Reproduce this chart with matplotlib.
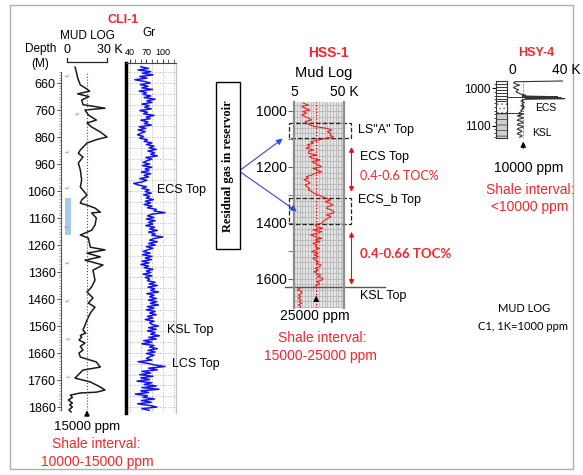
import numpy as np
import matplotlib
matplotlib.use("Agg")
import matplotlib.pyplot as plt
from matplotlib.patches import Rectangle, FancyArrowPatch
from matplotlib.ticker import MultipleLocator
from matplotlib.transforms import blended_transform_factory

plt.rcParams['font.family'] = ['Liberation Sans', 'DejaVu Sans']
plt.rcParams['hatch.linewidth'] = 0.5

RED = '#f0282d'

# ---- CLI-1: mud log (C1, K ppm) vs depth (m) ----
CLI_DEPTH = [601, 618, 641, 667, 679, 690, 700, 710, 723, 740, 753, 760, 778, 797, 808,
             823, 841, 860, 868, 882, 908, 920, 934, 956, 982, 1019, 1045, 1075, 1093,
             1105, 1112, 1123, 1138, 1141, 1160, 1186, 1205, 1223, 1234, 1268, 1278,
             1290, 1304, 1316, 1334, 1353, 1390, 1415, 1434, 1456, 1475, 1490, 1512,
             1538, 1575, 1586, 1595, 1601, 1612, 1623, 1635, 1649, 1660, 1675, 1693,
             1712, 1723, 1753, 1767, 1786, 1797, 1805, 1808, 1816, 1825, 1834, 1845,
             1852, 1860, 1870, 1878]
CLI_GAS = [6, 7, 8, 10, 14, 17, 8, 16.5, 11, 12, 28.5, 13.5, 16, 22, 15,
           18.5, 25, 30, 23, 15, 10, 8.5, 12, 8.5, 10, 11, 10, 15, 11,
           10, 15, 21, 25, 18.5, 22, 21, 18.5, 10, 16, 17.5, 28.5,
           15, 25, 13.5, 27, 19.5, 21, 18.5, 15, 19.5, 16, 21, 17.5,
           15, 12, 14, 10, 11, 9, 13.5, 10, 12, 9, 10, 22,
           25, 12, 6, 17.5, 25, 28.5, 22, 10, 2.5, 4, 1, 4,
           2, 4, 1.5, 3]
CLI_SHALE_BAND = (1086, 1223)
CLI_CUTOFF = 15          # K ppm
CLI_TOPS = ['ECS Top', 'KSL Top', 'LCS Top']
CLI_TOP_DEPTH = [1056, 1575, 1700]
CLI_DEPTH_TICKS = [660, 760, 860, 960, 1060, 1160, 1260, 1360, 1460, 1560, 1660, 1760, 1860]

# ---- CLI-1: gamma ray (API), sampled every 6 m from 600 m ----
GR_TOP, GR_STEP = 600, 6
GR = [60, 74, 55, 78, 63, 82, 58, 71, 49, 66, 77, 59, 73, 62, 81, 57, 70,
      64, 78, 66, 86, 71, 80, 62, 75, 67, 79, 58, 72, 65, 84, 70, 77, 60, 73, 66, 79, 57, 69, 55, 68, 60,
      54, 65, 58, 72, 66, 80, 70, 84, 75, 88, 73, 85, 78, 90, 69, 80, 71,
      64, 76, 63, 80, 68, 75, 61, 78, 66, 74, 58, 71, 63, 47, 56, 70, 62, 75,
      68, 79, 65, 76, 70, 83, 68, 78, 66, 80, 72, 88, 84, 104, 80,
      72, 84, 70, 86, 74, 82, 69, 85, 76, 90, 74, 86, 80, 100, 84,
      76, 90, 74, 86, 70, 82, 72,
      64, 77, 63, 80, 68, 79, 62, 75, 60, 74, 66, 82, 70, 78, 64, 80, 68, 76,
      72, 86, 75, 90, 73, 85, 78, 92, 71, 84, 76, 88, 74, 89, 77, 92, 72, 84, 70, 86, 76, 88, 72, 82, 68, 84, 76,
      80, 92, 74, 88, 72, 86, 78, 94, 74, 88, 65, 80, 62, 84, 76, 90, 73, 86, 70, 84, 76,
      70, 80, 55, 72, 85, 104, 74, 90,
      62, 78, 58, 82, 60, 76, 53, 80, 66, 88, 62, 93, 60, 74, 50, 72, 64, 85, 61, 79, 54, 76, 89, 62, 75]

# ---- HSS-1: mud log ----
HSS_DEPTH = [972, 979, 984, 990, 996, 1002, 1008, 1014, 1020, 1026, 1032, 1038, 1044, 1050,
             1056, 1062, 1068, 1074, 1080, 1086, 1092, 1098, 1104, 1110, 1115, 1121, 1127,
             1133, 1139, 1145, 1151, 1157, 1163, 1169, 1175, 1181, 1187, 1193, 1199, 1205,
             1211, 1217, 1223, 1229, 1235, 1240, 1246, 1252, 1258, 1264, 1270, 1276, 1282,
             1288, 1294, 1300, 1306, 1312, 1318, 1324, 1330, 1336, 1342, 1348, 1354, 1360,
             1365, 1371, 1377, 1383, 1389, 1395, 1401, 1407, 1413, 1419, 1425, 1431, 1437,
             1443, 1449, 1455, 1461, 1467, 1473, 1479, 1485, 1491, 1497, 1503, 1508, 1514,
             1520, 1526, 1532, 1538, 1544, 1550, 1556, 1562, 1568, 1574, 1580, 1586, 1592,
             1598, 1604, 1610, 1616, 1621, 1627, 1633, 1639, 1645, 1651, 1657, 1663, 1669,
             1675, 1681, 1687, 1693, 1699, 1705]
HSS_GAS = [13.4, 17.9, 12, 14.9, 19.4, 13, 16.4, 12, 14.9, 18, 21, 15, 16.4, 19,
           23.9, 34.4, 38.9, 35, 38, 37.4, 40.4, 32.9, 26.9, 20, 22.4, 17, 19.4,
           16, 22.4, 18, 17.9, 25.4, 19, 20.9, 28.4, 21, 23.9, 27, 29.9, 22,
           25.4, 29.9, 24, 20.9, 16, 17.9, 14, 18, 19.4, 15, 16.4, 19, 17.9,
           20.9, 23, 26.9, 30, 34.4, 38, 33, 37.4, 40, 35, 34.4, 39, 41,
           40.4, 34, 38, 35.9, 33, 31, 29.9, 24, 25.4, 31, 22, 29.9, 26,
           20, 23.9, 30, 24, 28.4, 22, 26, 23.9, 28, 24, 21, 26.9, 23,
           27, 22, 23.9, 27, 25, 29, 28.4, 24, 27, 23, 25.4, 29, 26,
           31, 29.9, 25, 28, 26.9, 24, 10.4, 8, 12, 11.9, 9, 11, 8.9,
           11, 9.5, 11.9, 9, 11, 10.4]
HSS_CUTOFF = 25
HSS_KSL = 1629
HSS_GAS_ZONES = [(1043, 1097), (1310, 1405)]
HSS_TOC_SPANS = [(1129, 1289), (1432, 1621)]

# ---- HSY-4: mud log and lithology ----
HSY_DEPTH = [981, 983, 986, 989, 992, 995, 998, 1001, 1004, 1007, 1010, 1013, 1016, 1019,
             1021, 1023, 1024, 1026, 1027, 1028, 1030, 1032, 1035, 1038, 1041, 1044, 1047,
             1050, 1053, 1056, 1059, 1062, 1065, 1068, 1071, 1074, 1077, 1080, 1083, 1086,
             1089, 1092, 1095, 1098, 1101, 1104, 1107, 1110, 1113, 1116, 1119, 1122, 1125,
             1128, 1131]
HSY_GAS = [42, 3, 2, 4, 7, 4, 2, 3, 6, 5, 4, 6, 8, 12,
           9, 38, 10, 41, 12, 44, 9, 10, 8, 11, 9, 10, 8,
           11, 9, 10, 8, 9, 7, 6, 9, 5, 8, 10, 6, 5,
           9, 10, 6, 5, 9, 10, 6, 5, 8, 9, 6, 5, 8,
           9, 7]
HSY_CUTOFF = 10
HSY_MARKERS = [1023, 1065]
LITH_TOP = [981, 1034, 1066]
LITH_BASE = [1034, 1066, 1133]
LITH_KIND = ['layered', 'sand', 'shale']
LITH_BEDS = [989, 997, 1005, 1013, 1021, 1029]

W, H = 583, 475
fig = plt.figure(figsize=(W / 100, H / 100), dpi=100)


def px_box(x0, y0, x1, y1):
    return [x0 / W, 1 - y1 / H, (x1 - x0) / W, (y1 - y0) / H]


def ftext(x, y, s, **kw):
    kw.setdefault('ha', 'center')
    kw.setdefault('va', 'center')
    return fig.text(x / W, 1 - y / H, s, **kw)


# outer frame
fig.patches.append(Rectangle((10 / W, 1 - 469 / H), 563 / W, 464 / H, transform=fig.transFigure,
                             fill=False, ec='#b0b0b0', lw=1))

# ================= CLI-1 =================
ax_m = fig.add_axes(px_box(61, 72, 120, 410))
ax_m.patch.set_alpha(0)
ax_m.plot(CLI_GAS, CLI_DEPTH, color='#1a1a1a', lw=1.1, clip_on=False)
ax_m.axvline(CLI_CUTOFF, color='red', ls=':', lw=0.8)
ax_m.set_xlim(-4.5, 39.75)
ax_m.set_ylim(1871, 619)
bt = blended_transform_factory(ax_m.transAxes, ax_m.transData)
ax_m.add_patch(Rectangle((0.068, CLI_SHALE_BAND[0]), 0.1, CLI_SHALE_BAND[1] - CLI_SHALE_BAND[0],
                         transform=bt, fc='#a8c8ea', ec='none'))
for s in ['top', 'right', 'bottom']:
    ax_m.spines[s].set_visible(False)
ax_m.spines['left'].set_color('#555555')
ax_m.set_xticks([])
ax_m.set_yticks(CLI_DEPTH_TICKS)
ax_m.yaxis.set_minor_locator(MultipleLocator(10))
ax_m.tick_params(axis='y', which='major', length=3, labelsize=9, pad=1, color='#555555')
ax_m.tick_params(axis='y', which='minor', length=1.5, width=0.5, color='#777777')

# mud-log scale bar
xt = ax_m.get_xaxis_transform()
ax_m.plot([0, 0, 30, 30], [1.041, 1.03, 1.03, 1.041], transform=xt, color='#222222',
          lw=0.9, clip_on=False)
ftext(123, 20, 'CLI-1', color=RED, fontsize=9, fontweight='bold')
ftext(87, 36, 'MUD LOG', fontsize=8.5)
ftext(41, 49, 'Depth', fontsize=8.5)
ftext(40, 64, '(M)', fontsize=8.5)
ftext(67, 50, '0', fontsize=9)
ftext(110, 50, '30 K', fontsize=9)

# paragraph marks left in the source document
for px, py in [(67, 77), (77, 115), (67, 153), (67, 189), (66, 228),
               (67, 264), (67, 302), (68, 340), (68, 378)]:
    ftext(px, py, '\u21b5', fontsize=4.5, color='#9a9a9a', family='DejaVu Sans')

ax_m.annotate('', xy=(CLI_CUTOFF, 1862), xytext=(CLI_CUTOFF, 1905),
              arrowprops=dict(arrowstyle='-|>', color='black', lw=0.8, mutation_scale=8),
              annotation_clip=False)
ftext(87, 427, '15000 ppm', fontsize=9.5)
ftext(96, 444, 'Shale interval:', fontsize=10, color=RED)
ftext(97, 462, '10000-15000 ppm', fontsize=10, color=RED)

# gamma ray track
gr_depth = GR_TOP + GR_STEP * np.arange(len(GR))
ax_g = fig.add_axes(px_box(126, 63, 176, 413))
ax_g.set_xlim(33, 124)
ax_g.set_ylim(1882, 586)
for v in [40, 60, 80, 100, 120]:
    ax_g.axvline(v, color='#b5b5b5', ls=':', lw=0.7, zorder=0)
ax_g.set_yticks(np.arange(620, 1880, 40))
ax_g.grid(axis='y', color='#b5b5b5', ls=':', lw=0.7)
ax_g.tick_params(axis='y', length=0, labelleft=False)
ax_g.plot(GR, gr_depth, color='#1414f0', lw=1.1)
ax_g.xaxis.tick_top()
ax_g.set_xticks([40, 70, 100])
ax_g.set_xticks([50, 60, 80, 90, 110, 120], minor=True)
ax_g.tick_params(axis='x', which='both', direction='out', length=3, labelsize=6.5, pad=1,
                 color='#444444')
ax_g.spines['left'].set_linewidth(2.5)
ax_g.spines['right'].set_color('#c0c0c0')
ax_g.spines['right'].set_linewidth(0.8)
ax_g.spines['top'].set_color('#444444')
ax_g.spines['top'].set_linewidth(0.8)
ax_g.spines['bottom'].set_visible(False)
ftext(149, 33, 'Gr', fontsize=8.5)
for name, d, xv in zip(CLI_TOPS, CLI_TOP_DEPTH, [89, 107, 116]):
    ax_g.text(xv, d, name, fontsize=9, ha='left', va='center', clip_on=False)

# ================= residual gas note =================
fig.patches.append(Rectangle((216 / W, 1 - 249 / H), 24 / W, 167 / H, transform=fig.transFigure,
                             fill=False, ec='black', lw=1))
ftext(228, 166, 'Residual gas in reservoir', rotation=90, fontsize=9, fontweight='bold',
      family='Liberation Serif')

# ================= HSS-1 =================
ax_h = fig.add_axes(px_box(294, 102, 344, 308))
ax_h.set_facecolor('#e4e4e4')
ax_h.set_xlim(5, 50)
ax_h.set_ylim(1704, 968)
for v in np.arange(7.5, 50, 2.5):
    ax_h.axvline(v, color='#b0b0b0', lw=0.5, zorder=0)
for d in np.arange(980, 1704, 20):
    ax_h.axhline(d, color='#b0b0b0', lw=0.5, zorder=0)
ax_h.axvline(HSS_CUTOFF, color='red', ls=':', lw=0.9)
hd = np.array(HSS_DEPTH)
hg = np.array(HSS_GAS)
above = hd < HSS_KSL
ax_h.plot(hg[above], hd[above], color='#ee2020', lw=0.8)
ax_h.plot(hg[~above], hd[~above], color='#ee2020', lw=0.8)
ax_h.axhline(HSS_KSL, xmin=-0.18, xmax=1.82, color='#555555', lw=1, clip_on=False)
ax_h.xaxis.tick_top()
ax_h.set_xticks([5, 50])
ax_h.set_xticklabels(['5', '50 K'])
ax_h.tick_params(axis='x', length=0, labelsize=10, pad=2)
ax_h.set_yticks([1000, 1200, 1400, 1600])
ax_h.set_yticks([1100, 1300, 1500], minor=True)
ax_h.tick_params(axis='y', which='both', length=4, labelsize=10, pad=1, color='#666666')
for s in ['left', 'right']:
    ax_h.spines[s].set_color('#8c8c8c')
    ax_h.spines[s].set_linewidth(1.6)
for s in ['top', 'bottom']:
    ax_h.spines[s].set_visible(False)

hb = blended_transform_factory(ax_h.transAxes, ax_h.transData)
for top, base in HSS_GAS_ZONES:
    ax_h.add_patch(Rectangle((-0.1, top), 1.24, base - top, transform=hb, fill=False,
                             ls='--', ec='#222222', lw=0.9, clip_on=False))
for top, base in HSS_TOC_SPANS:
    ax_h.annotate('', xy=(1.15, top), xytext=(1.15, base), xycoords=hb, textcoords=hb,
                  arrowprops=dict(arrowstyle='<|-|>', color='red', lw=0.8, mutation_scale=7,
                                  shrinkA=0, shrinkB=0))
ax_h.text(1.28, 1068, 'LS"A" Top', transform=hb, fontsize=9, va='center')
ax_h.text(1.32, 1164, 'ECS Top', transform=hb, fontsize=9, va='center')
ax_h.text(1.32, 1232, '0.4-0.6 TOC%', transform=hb, fontsize=9, va='center', color=RED,
          family='Lato')
ax_h.text(1.28, 1318, 'ECS_b Top', transform=hb, fontsize=9, va='center')
ax_h.text(1.32, 1511, '0.4-0.66 TOC%', transform=hb, fontsize=9.5, va='center', color=RED,
          family='Lato', fontweight='bold')
ax_h.text(1.32, 1661, 'KSL Top', transform=hb, fontsize=9, va='center')

ax_h.annotate('', xy=(HSS_CUTOFF, 1650), xytext=(HSS_CUTOFF, 1689),
              arrowprops=dict(arrowstyle='-|>', color='black', lw=0.8, mutation_scale=8))
ftext(328, 53, 'HSS-1', color=RED, fontsize=10, fontweight='bold')
ftext(324, 73, 'Mud Log', fontsize=10.5)
ftext(315, 316, '25000 ppm', fontsize=10)
ftext(322, 338, 'Shale interval:', fontsize=10, color=RED)
ftext(320, 356, '15000-25000 ppm', fontsize=10, color=RED)

# blue arrows from the note to the gas zones
for tx, ty in [(285, 137), (299, 213)]:
    fig.add_artist(FancyArrowPatch((239, H - 171), (tx, H - ty), transform=None,
                                   arrowstyle='-|>', color='#3548e0', lw=0.8,
                                   mutation_scale=9))

# ================= HSY-4 =================
ax_l = fig.add_axes(px_box(496, 81, 507, 138))
ax_l.set_xlim(0, 1)
ax_l.set_ylim(1133, 981)
for top, base, kind in zip(LITH_TOP, LITH_BASE, LITH_KIND):
    if kind == 'sand':
        ax_l.axhspan(top, base, fc='white', ec='#666666', hatch='....', lw=0)
    elif kind == 'shale':
        ax_l.axhspan(top, base, fc='#d0d0d0', ec='#333333', hatch='---', lw=0)
    else:
        ax_l.axhspan(top, base, fc='white', lw=0)
    ax_l.axhline(base, color='#333333', lw=0.7)
for d in LITH_BEDS:
    ax_l.axhline(d, color='#333333', lw=0.7)
ax_l.set_xticks([])
ax_l.set_yticks([1000, 1100])
ax_l.yaxis.set_minor_locator(MultipleLocator(10))
ax_l.tick_params(axis='y', which='major', length=3, labelsize=8.5, pad=1)
ax_l.tick_params(axis='y', which='minor', length=1.5, width=0.5)
for s in ax_l.spines.values():
    s.set_color('#333333')
    s.set_linewidth(0.8)

ax_y = fig.add_axes(px_box(507, 81, 575, 138))
ax_y.set_xlim(-3.3, 52.2)
ax_y.set_ylim(1133, 981)
ax_y.axis('off')
ax_y.plot(HSY_GAS, HSY_DEPTH, color='#333333', lw=0.8, clip_on=False)
ax_y.axvline(HSY_CUTOFF, color='red', ls=':', lw=0.8)
for d in HSY_MARKERS:
    ax_y.axhline(d, xmin=0, xmax=0.24, color='#333333', lw=0.7)
ax_y.text(20, 1052, 'ECS', fontsize=7.5, va='center')
ax_y.text(17.5, 1120, 'KSL', fontsize=7.5, va='center')
ax_y.annotate('', xy=(HSY_CUTOFF, 1135), xytext=(HSY_CUTOFF, 1168),
              arrowprops=dict(arrowstyle='-|>', color='black', lw=0.8, mutation_scale=8),
              annotation_clip=False)
ftext(536, 53, 'HSY-4', color=RED, fontsize=9, fontweight='bold')
ftext(512, 70, '0', fontsize=10)
ftext(566, 70, '40 K', fontsize=10)
ftext(529, 168, '10000 ppm', fontsize=10)
ftext(530, 190, 'Shale interval:', fontsize=10, color=RED)
ftext(530, 207, '<10000 ppm', fontsize=10, color=RED)

ftext(524, 309, 'MUD LOG', fontsize=8, family='Lato')
ftext(523, 326, 'C1, 1K=1000 ppm', fontsize=8, family='Lato')

fig.savefig('out.png', dpi=100)
